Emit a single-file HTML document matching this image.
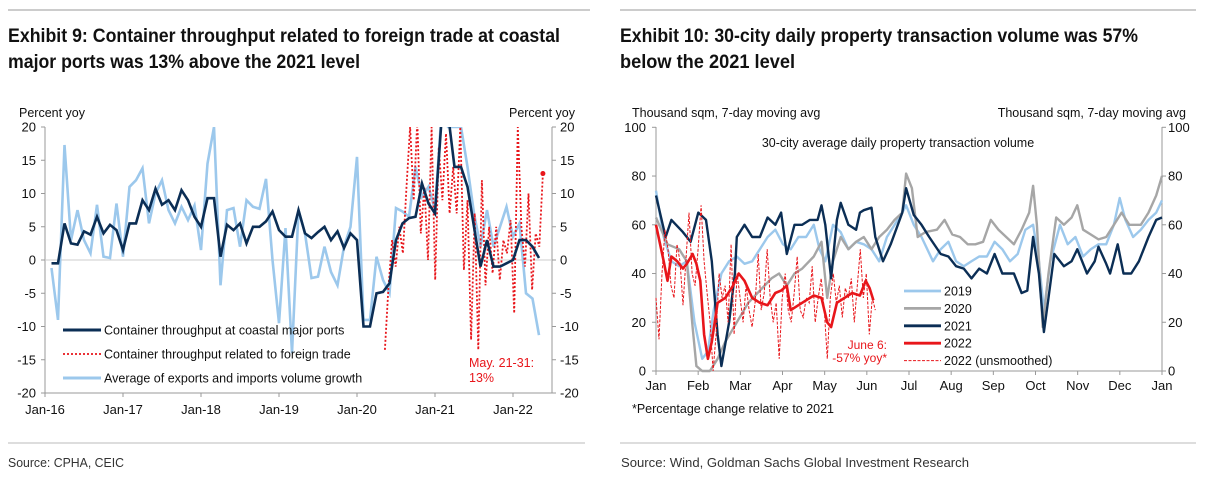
<!DOCTYPE html>
<html><head><meta charset="utf-8"><style>
body{margin:0;background:#fff;width:1211px;height:484px;overflow:hidden}
svg{display:block;font-family:"Liberation Sans",Arial,sans-serif}
</style></head><body>
<svg id="s" width="1211" height="484" viewBox="0 0 1211 484">
<line x1="8" y1="10" x2="590" y2="10" stroke="#999"/>
<line x1="620" y1="10" x2="1196" y2="10" stroke="#999"/>
<text x="8" y="42" font-size="19" font-weight="bold" textLength="552" lengthAdjust="spacingAndGlyphs" fill="#111">Exhibit 9: Container throughput related to foreign trade at coastal</text>
<text x="8" y="68" font-size="19" font-weight="bold" textLength="352" lengthAdjust="spacingAndGlyphs" fill="#111">major ports was 13% above the 2021 level</text>
<text x="620" y="42" font-size="19" font-weight="bold" textLength="518" lengthAdjust="spacingAndGlyphs" fill="#111">Exhibit 10: 30-city daily property transaction volume was 57%</text>
<text x="620" y="68" font-size="19" font-weight="bold" textLength="175" lengthAdjust="spacingAndGlyphs" fill="#111">below the 2021 level</text>
<line x1="8" y1="443" x2="585" y2="443" stroke="#bbb"/>
<line x1="620" y1="443" x2="1196" y2="443" stroke="#bbb"/>
<text x="8" y="467" font-size="13" textLength="116" lengthAdjust="spacingAndGlyphs" fill="#333">Source: CPHA, CEIC</text>
<text x="621" y="467" font-size="13" textLength="348" lengthAdjust="spacingAndGlyphs" fill="#333">Source: Wind, Goldman Sachs Global Investment Research</text>
<text x="19" y="117" font-size="12.5" fill="#111">Percent yoy</text>
<text x="575" y="117" font-size="12.5" fill="#111" text-anchor="end">Percent yoy</text>
<text x="632" y="117" font-size="12.5" fill="#111">Thousand sqm, 7-day moving avg</text>
<text x="1186" y="117" font-size="12.5" fill="#111" text-anchor="end">Thousand sqm, 7-day moving avg</text>
<text x="898" y="147" font-size="12.5" fill="#111" text-anchor="middle">30-city average daily property transaction volume</text>
<text x="632" y="413" font-size="13" textLength="202" lengthAdjust="spacingAndGlyphs" fill="#111">*Percentage change relative to 2021</text>
<g id="c1"></g><g id="c2"></g>
</svg>
<script>
// ---- Chart 1 data (monthly index: 0 = Jan-16) ----
const c1Ticks=[-20,-15,-10,-5,0,5,10,15,20];
const c1XLabels=["Jan-16","Jan-17","Jan-18","Jan-19","Jan-20","Jan-21","Jan-22"];
const portMonths=[1,2,3,4,5,6,7,8,9,10,11,12,13,14,15,16,17,18,19,20,21,22,23,24,25,26,27,28,29,30,31,32,33,34,35,36,37,38,39,40,41,42,43,44,45,46,47,48,49,50,51,52,53,54,55,56,57,58,59,60,61,62,63,64,65,66,67,68,69,70,71,72,73,74,75,76];
const portValues=[-0.5,-0.5,5.5,2.5,2.3,4.3,3.8,6.5,4,5.3,4.5,1.5,5.5,5.5,9,7.5,10.7,8.3,9,7.5,10.5,9,6.5,5,9.3,9.3,0.5,5.3,4.5,5.5,2.5,5,5,5.8,7.3,4.5,3.5,3.5,7.5,4,3.3,4.2,5,3,4.3,1.8,4,3,-10,-10,-5,-4.8,-3.5,3,5.5,6.3,6.5,11.5,8.5,7,21,22,14,14,11,5,-1,3,-1,-1,-0.5,0,3,3,2,0.3];
const tradeValues=[-1.2,-9,17.3,3,7.5,3,1,8.3,0.5,0.3,8.5,0.5,11,12,13.8,5.5,10,12,7.5,5.5,8,6,8.2,1.5,14.5,20,-3.8,7.5,7.8,2,9,8,7.7,12.2,0,-9.5,4.8,-14,7.5,4,-2.7,-2.5,2,-1.8,-3.8,2,5,15.5,-9,-9,0.5,-3,-5,7.8,7.3,6.5,14,9.5,11,7.5,22,20,20,20,14,7,2,7.5,2,5,8,3.5,5.5,-5,-5.8,-11.3];
const foreignValues=[-13.5,-4,3,-1,5,1,11,20,9,21,4,11,0,20,-3,17,9,19,7,14,7,20,-1.5,9,-12,7,-13.5,12,-3.8,5,-2,5,-3,3,1,6,-8,20,5,-1,10,-4.5,4,2,13];
const foreignStart=52.3, foreignEnd=76.6;
const latestValue=13;

// ---- Chart 2 data (zoom-x day position: 120 = Jan 1, 1435 = next Jan 1) ----
const c2Ticks=[0,20,40,60,80,100];
const c2XLabels=["Jan","Feb","Mar","Apr","May","Jun","Jul","Aug","Sep","Oct","Nov","Dec","Jan"];
const y2021X=[120,145,160,190,210,230,250,265,280,290,310,325,330,350,370,390,410,430,445,460,480,500,520,540,550,560,575,590,600,620,640,650,660,680,690,710,730,760,770,790,810,830,860,880,900,920,940,960,980,1000,1020,1050,1070,1085,1100,1115,1128,1140,1155,1180,1200,1215,1240,1260,1270,1290,1300,1320,1335,1355,1375,1400,1420,1435];
const y2021V=[72,55,62,57,53,65,62,45,15,2,20,40,55,60,55,55,63,60,65,48,60,60,62,62,68,60,38,62,69,60,58,65,66,67,55,45,52,65,75,64,60,55,48,47,43,42,38,42,40,48,40,40,32,33,55,40,16,30,48,43,45,50,40,45,51,44,40,52,40,40,45,55,62,63];
const y2020X=[120,150,180,200,215,225,240,260,280,300,330,360,390,420,440,460,480,500,530,550,565,580,600,620,640,660,680,700,720,740,760,770,785,800,820,850,870,890,910,930,950,970,990,1010,1030,1050,1070,1090,1100,1110,1125,1140,1160,1180,1200,1215,1230,1250,1270,1290,1310,1330,1350,1380,1400,1420,1435];
const y2020V=[63,52,50,45,18,2,0,0,5,12,20,28,33,38,40,35,40,42,47,53,30,45,55,50,53,55,50,55,58,62,65,81,75,55,57,58,62,56,55,52,52,53,62,58,55,52,58,65,76,60,18,40,63,60,63,68,58,56,54,55,60,65,60,60,65,72,80];
const y2019X=[120,140,160,180,200,220,240,255,270,290,310,330,350,370,390,410,430,450,470,490,510,530,545,560,580,600,620,640,660,680,700,720,740,760,770,790,810,840,860,880,900,920,940,960,980,1000,1020,1040,1060,1080,1100,1115,1128,1145,1170,1190,1210,1230,1250,1270,1290,1310,1325,1340,1360,1380,1400,1420,1435];
const y2019V=[74,55,45,43,45,20,5,8,25,40,45,47,44,45,50,55,58,52,50,55,55,60,50,45,60,57,50,53,52,50,45,55,60,65,68,60,55,45,50,53,45,43,45,47,47,53,50,45,48,58,60,45,25,45,60,52,55,47,50,52,52,60,71,62,55,58,62,65,70];
const y2022X=[120,140,150,160,175,190,200,215,225,235,245,255,265,280,300,320,335,350,370,390,410,430,445,460,470,490,510,530,550,565,575,590,610,630,650,665,675,685];
const y2022V=[60,45,37,47,45,42,44,48,44,37,15,5,12,28,30,35,40,37,30,28,27,32,33,35,25,27,29,31,30,20,18,28,30,32,31,37,34,29];
const rawV=[30,13,40,58,50,35,30,52,45,27,46,65,40,35,50,68,45,32,20,0,15,40,30,35,20,52,15,40,30,20,35,25,18,28,48,25,32,50,30,20,28,5,30,40,25,20,32,47,25,22,30,28,43,20,30,38,25,5,30,40,28,35,22,34,30,38,20,35,50,30,40,15,30,25];
const rawStartX=120, rawEndX=690;

const NS="http://www.w3.org/2000/svg";
function mk(parent,tag,attrs,txt){const e=document.createElementNS(NS,tag);for(const k in attrs)e.setAttribute(k,attrs[k]);if(txt!==undefined)e.textContent=txt;parent.appendChild(e);return e;}
function pathD(xs,ys,fx,fy){return xs.map((x,i)=>(i?'L':'M')+fx(x).toFixed(1)+','+fy(ys[i]).toFixed(1)).join('');}

// ===== Chart 1 =====
const g1=document.getElementById('c1');
const L1=45,R1=552;
const X1=m=>L1+m*6.5, Y1=v=>260-v*6.65;
mk(g1,'line',{x1:L1,y1:127,x2:L1,y2:393,stroke:'#999'});
mk(g1,'line',{x1:R1,y1:127,x2:R1,y2:393,stroke:'#999'});
mk(g1,'line',{x1:L1,y1:393,x2:R1,y2:393,stroke:'#999'});
mk(g1,'line',{x1:L1,y1:Y1(0),x2:R1,y2:Y1(0),stroke:'#ccc'});
c1Ticks.forEach(t=>{
  const y=Y1(t);
  mk(g1,'line',{x1:L1-4,y1:y,x2:L1,y2:y,stroke:'#999'});
  mk(g1,'line',{x1:R1,y1:y,x2:R1+4,y2:y,stroke:'#999'});
  const a=mk(g1,'text',{x:36,y:y+4.5,'font-size':13,'text-anchor':'end',fill:'#111'},String(t));
  
  const b=mk(g1,'text',{x:560,y:y+4.5,'font-size':13,fill:'#111'},String(t));
  
});
c1XLabels.forEach((l,i)=>{
  const x=X1(i*12);
  mk(g1,'line',{x1:x,y1:393,x2:x,y2:397,stroke:'#999'});
  const t=mk(g1,'text',{x:x,y:414,'font-size':13,'text-anchor':'middle',fill:'#111'},l);
  
});
const clip=mk(g1,'clipPath',{id:'cl1'});mk(clip,'rect',{x:L1,y:127,width:R1-L1,height:266});
const trade=mk(g1,'path',{d:pathD(portMonths,tradeValues,X1,Y1),fill:'none',stroke:'#9cc8ec','stroke-width':2.6,'clip-path':'url(#cl1)'});

const fm=foreignValues.map((v,i)=>foreignStart+i*(foreignEnd-foreignStart)/(foreignValues.length-1));
const fl=mk(g1,'path',{d:pathD(fm,foreignValues,X1,Y1),fill:'none',stroke:'#e8161b','stroke-width':1.8,'stroke-dasharray':'2,2','clip-path':'url(#cl1)'});

const port=mk(g1,'path',{d:pathD(portMonths,portValues,X1,Y1),fill:'none',stroke:'#0b2e55','stroke-width':2.6,'clip-path':'url(#cl1)'});

const dot=mk(g1,'circle',{cx:X1(foreignEnd),cy:Y1(latestValue),r:2.5,fill:'#e8161b'});

const leg1=[['Container throughput at coastal major ports','#0b2e55',null],['Container throughput related to foreign trade','#e8161b','2,2'],['Average of exports and imports volume growth','#9cc8ec',null]];
leg1.forEach((l,i)=>{
  const y=330+i*24;
  const ln=mk(g1,'line',{x1:63,y1:y,x2:101,y2:y,stroke:l[1],'stroke-width':l[2]?1.8:3});
  if(l[2])ln.setAttribute('stroke-dasharray',l[2]);
  
  const t=mk(g1,'text',{x:104,y:y+4.5,'font-size':12.5,fill:'#111'},l[0]);
  
});
const an1=mk(g1,'text',{x:469,y:367,'font-size':12.5,fill:'#e8161b'},'May. 21-31:');

const an2=mk(g1,'text',{x:469,y:382,'font-size':12.5,fill:'#e8161b'},'13%');


// ===== Chart 2 =====
const g2=document.getElementById('c2');
const L2=656,R2=1162;
const X2=zx=>L2+(zx-120)*(R2-L2)/1315, Y2=v=>371-v*2.437;
const XM=m=>L2+m*(R2-L2)/12;
mk(g2,'line',{x1:L2,y1:127,x2:L2,y2:371,stroke:'#999'});
mk(g2,'line',{x1:R2,y1:127,x2:R2,y2:371,stroke:'#999'});
mk(g2,'line',{x1:L2,y1:371,x2:R2,y2:371,stroke:'#999'});
c2Ticks.forEach(t=>{
  const y=Y2(t);
  mk(g2,'line',{x1:L2-4,y1:y,x2:L2,y2:y,stroke:'#999'});
  mk(g2,'line',{x1:R2,y1:y,x2:R2+4,y2:y,stroke:'#999'});
  const a=mk(g2,'text',{x:646,y:y+4.5,'font-size':13,'text-anchor':'end',fill:'#111'},String(t));
  
  const b=mk(g2,'text',{x:1168,y:y+4.5,'font-size':13,fill:'#111'},String(t));
  
});
c2XLabels.forEach((l,i)=>{
  const x=XM(i);
  mk(g2,'line',{x1:x,y1:371,x2:x,y2:375,stroke:'#999'});
  const t=mk(g2,'text',{x:x,y:390,'font-size':13,'text-anchor':'middle',fill:'#111'},l);
  
});
const s19=mk(g2,'path',{d:pathD(y2019X,y2019V,X2,Y2),fill:'none',stroke:'#9cc8ec','stroke-width':2.4,'stroke-linejoin':'round'});

const s20=mk(g2,'path',{d:pathD(y2020X,y2020V,X2,Y2),fill:'none',stroke:'#a6a6a6','stroke-width':2.4,'stroke-linejoin':'round'});

const s21=mk(g2,'path',{d:pathD(y2021X,y2021V,X2,Y2),fill:'none',stroke:'#0b2e55','stroke-width':2.4,'stroke-linejoin':'round'});

const rx=rawV.map((v,i)=>rawStartX+i*(rawEndX-rawStartX)/(rawV.length-1));
const sr=mk(g2,'path',{d:pathD(rx,rawV,X2,Y2),fill:'none',stroke:'#e8161b','stroke-width':1,'stroke-dasharray':'3,1.5'});

const s22=mk(g2,'path',{d:pathD(y2022X,y2022V,X2,Y2),fill:'none',stroke:'#e8161b','stroke-width':2.6,'stroke-linejoin':'round'});

const leg2=[['2019','#9cc8ec',null,2.8],['2020','#a6a6a6',null,2.8],['2021','#0b2e55',null,2.8],['2022','#e8161b',null,2.8],['2022 (unsmoothed)','#e8161b','3,1.5',1]];
leg2.forEach((l,i)=>{
  const y=291+i*17.4;
  const ln=mk(g2,'line',{x1:904,y1:y,x2:941,y2:y,stroke:l[1],'stroke-width':l[3]});
  if(l[2])ln.setAttribute('stroke-dasharray',l[2]);
  
  const t=mk(g2,'text',{x:944,y:y+4.5,'font-size':12.5,fill:'#111'},l[0]);
  
});
const a3=mk(g2,'text',{x:887,y:349,'font-size':12,fill:'#e8161b','text-anchor':'end'},'June 6:');

const a4=mk(g2,'text',{x:887,y:362,'font-size':12,fill:'#e8161b','text-anchor':'end'},'-57% yoy*');

</script>
</body></html>
